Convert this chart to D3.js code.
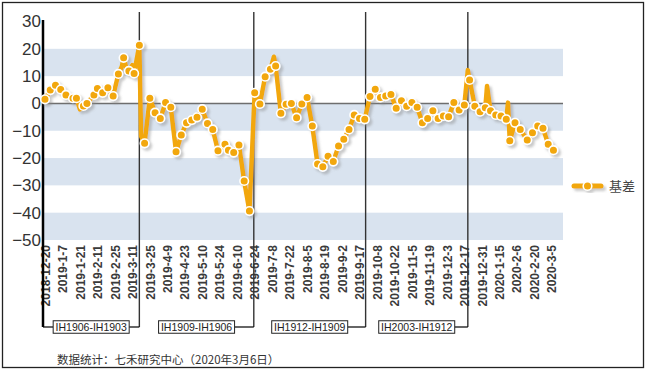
<!DOCTYPE html>
<html>
<head>
<meta charset="utf-8">
<script src="https://cdn.jsdelivr.net/npm/d3@7"></script>
<style>
body { margin: 0; background: #fff; }
svg { display: block; font-family: "Liberation Sans", Arial, sans-serif; }
</style>
</head>
<body>
<div id="chart"></div>
<script>
var svgWidth = 647
var svgHeight = 371

// tick labels, one every 10 trading days
var tickLabels = ["2018-12-20", "2019-1-7", "2019-1-21", "2019-2-11", "2019-2-25", "2019-3-11",
	"2019-3-25", "2019-4-9", "2019-4-23", "2019-5-10", "2019-5-24", "2019-6-10", "2019-6-24",
	"2019-7-8", "2019-7-22", "2019-8-5", "2019-8-19", "2019-9-2", "2019-9-17", "2019-10-8",
	"2019-10-22", "2019-11-5", "2019-11-19", "2019-12-3", "2019-12-17", "2019-12-31",
	"2020-1-15", "2020-2-6", "2020-2-20", "2020-3-5"]

// trading day index (0 = 2018-12-20) and basis value
var dayIdx = [0, 3, 6, 9, 12, 16, 18, 20, 22, 24, 28, 30, 33, 36, 39, 42, 44, 45, 47, 48, 50, 51, 54, 55, 57,
	60, 63, 66, 69, 72, 75, 78, 81, 84, 87, 90, 93, 96, 99, 103, 105, 108, 111, 114, 117, 120,
	123, 126, 129, 131, 132, 135, 138, 141, 144, 147, 150, 153, 156, 159, 162, 165, 168, 171,
	174, 177, 180, 183, 186, 189, 192, 195, 198, 201, 204, 207, 210, 213, 216, 219, 222, 225,
	228, 231, 234, 237, 240, 242, 243, 246, 249, 252, 253, 255, 258, 261, 264, 265, 266, 269,
	272, 276, 279, 282, 285, 288, 291]
var basis = [1.5, 4.9, 6.7, 5.1, 3.1, 1.9, 1.9, -2.2, -0.9, 0, 3.1, 5.5, 3.9, 5.7, 2.7, 10.8, 13.5, 16.7, 12, 11.9, 14, 11, 21.3, -12, -14.6,
	1.9, -3.4, -5.5, 0.3, -1.4, -17.7, -11.6, -7.1, -6.1, -5.1, -2.1, -7.3, -9.5, -17.3, -14.9, -17.1, -18, -15.2, -28.4, -39.4, 3.9,
	-0.2, 9.8, 12.5, 17.1, 13.7, -3.6, -0.3, 0, -5.2, -0.2, 2.2, -8.3, -22.2, -23.2, -19.3, -21.3, -15.6, -13.1,
	-9.5, -4.2, -5.5, -5.8, 2.5, 5.2, 2.2, 2.7, 3.3, -1.8, 1, -1, 0.3, -1.4, -7.1, -5.5, -2.7, -5.5,
	-4.6, -4.9, 0.3, -2.4, -0.6, 12.2, 8.6, -1, -3, -1.6, 6.4, -2.7, -4.2, -4.6, -5.8, 0.3, -13.7, -7.1,
	-9.5, -13.4, -10.7, -8.3, -9.1, -14.9, -17.1]
// line vertices that carry no marker (intraday spikes)
var noMarker = [20, 44, 47, 50, 55, 131, 242, 253, 265]

// contract roll positions and the spread names of each period
var switchIdx = [54, 119.5, 183.5, 242]
var periodNames = ["IH1906-IH1903", "IH1909-IH1906", "IH1912-IH1909", "IH2003-IH1912"]

var yTicks = [-50, -40, -30, -20, -10, 0, 10, 20, 30]

var plotLeft = 43
var plotRight = 563
var orange = "#f2a70c"

var svg = d3.select("#chart")
	.append("svg")
	.attr("width", svgWidth)
	.attr("height", svgHeight)

var defs = svg.append("defs")
var shadow = defs.append("filter")
	.attr("id", "shadow")
	.attr("x", "-10%").attr("y", "-10%")
	.attr("width", "130%").attr("height", "130%")
shadow.append("feDropShadow")
	.attr("dx", 2.5)
	.attr("dy", 2.5)
	.attr("stdDeviation", 1)
	.attr("flood-color", "#8a8a8a")
	.attr("flood-opacity", 0.45)

// outer frame
svg.append("rect")
	.attr("x", 2.5).attr("y", 2.5)
	.attr("width", 641).attr("height", 365)
	.attr("fill", "none")
	.attr("stroke", "#222")
	.attr("stroke-width", 1.3)

var x = d3.scaleLinear().domain([0, 290]).range([45, 551.7])
var y = d3.scaleLinear().domain([-50, 30]).range([240, 21.5])

// alternating bands
var bands = [[10, 20], [-10, 0], [-30, -20], [-50, -40]]
svg.append("g").selectAll("rect")
	.data(bands)
	.enter()
	.append("rect")
	.attr("x", plotLeft)
	.attr("width", plotRight - plotLeft)
	.attr("y", function(d){return y(d[1])})
	.attr("height", function(d){return y(d[0]) - y(d[1])})
	.attr("fill", "#d9e3ef")

// zero line
svg.append("line")
	.attr("x1", plotLeft).attr("x2", plotRight)
	.attr("y1", y(0)).attr("y2", y(0))
	.attr("stroke", "#6e6e6e")
	.attr("stroke-width", 1.5)

// y axis
var yAxis = svg.append("g")
	.attr("transform", "translate(" + plotLeft + ",0)")
	.call(d3.axisLeft(y).tickValues(yTicks).tickSize(0).tickPadding(2))
yAxis.select(".domain").remove()
yAxis.selectAll("text")
	.style("font-size", "17px")
	.attr("fill", "#333")

// x axis labels
var xAxis = svg.append("g")
	.attr("transform", "translate(0,241)")
	.call(d3.axisBottom(x)
		.tickValues(d3.range(0, 300, 10))
		.tickFormat(function(d){return tickLabels[d / 10]})
		.tickSize(0))
xAxis.select(".domain").remove()
xAxis.selectAll("text")
	.attr("transform", "rotate(-90)")
	.attr("text-anchor", "end")
	.attr("x", -4)
	.attr("y", 0)
	.attr("dy", "0.35em")
	.style("font-size", "12px")
	.style("font-weight", "bold")
	.attr("fill", "#3a3a3a")

// contract roll lines and brackets
var bounds = [plotLeft].concat(switchIdx.map(function(d){return x(d)}))
var bracketY = 327
var guides = svg.append("g")
guides.selectAll("line.roll")
	.data(switchIdx)
	.enter()
	.append("line")
	.attr("class", "roll")
	.attr("x1", function(d){return x(d)})
	.attr("x2", function(d){return x(d)})
	.attr("y1", 12)
	.attr("y2", bracketY)
	.attr("stroke", "#333")
	.attr("stroke-width", 1.4)

// left axis line, thick
guides.append("line")
	.attr("x1", plotLeft).attr("x2", plotLeft)
	.attr("y1", 20).attr("y2", bracketY)
	.attr("stroke", "#000")
	.attr("stroke-width", 2.5)

var boxW = 76
var boxH = 12.5
periodNames.forEach(function(name, i) {
	var cx = (bounds[i] + bounds[i + 1]) / 2
	if (i === 0) {
		guides.append("line")
			.attr("x1", bounds[i]).attr("x2", cx - boxW / 2)
			.attr("y1", bracketY).attr("y2", bracketY)
			.attr("stroke", "#000").attr("stroke-width", 1.2)
	}
	guides.append("line")
		.attr("x1", cx + boxW / 2).attr("x2", bounds[i + 1])
		.attr("y1", bracketY).attr("y2", bracketY)
		.attr("stroke", "#000").attr("stroke-width", 1.2)
	guides.append("rect")
		.attr("x", cx - boxW / 2)
		.attr("y", bracketY - boxH / 2)
		.attr("width", boxW)
		.attr("height", boxH)
		.attr("fill", "#fff")
		.attr("stroke", "#222")
		.attr("stroke-width", 1)
	guides.append("text")
		.attr("x", cx)
		.attr("y", bracketY + 4)
		.attr("text-anchor", "middle")
		.style("font-size", "10.5px")
		.attr("fill", "#222")
		.text(name)
})

// series
var points = dayIdx.map(function(d, i){return {idx: d, value: basis[i]}})
var series = svg.append("g").attr("filter", "url(#shadow)")
var line = d3.line()
	.x(function(d){return x(d.idx)})
	.y(function(d){return y(d.value)})
series.append("path")
	.datum(points)
	.attr("d", line)
	.attr("fill", "none")
	.attr("stroke", orange)
	.attr("stroke-width", 4.5)
	.attr("stroke-linejoin", "round")
series.selectAll("circle")
	.data(points.filter(function(d){return noMarker.indexOf(d.idx) === -1}))
	.enter()
	.append("circle")
	.attr("cx", function(d){return x(d.idx)})
	.attr("cy", function(d){return y(d.value)})
	.attr("r", 4.3)
	.attr("fill", orange)
	.attr("stroke", "#fff")
	.attr("stroke-width", 1.6)

// legend
var legend = svg.append("g").attr("filter", "url(#shadow)")
legend.append("line")
	.attr("x1", 574).attr("x2", 601)
	.attr("y1", 186).attr("y2", 186)
	.attr("stroke", orange)
	.attr("stroke-width", 5)
	.attr("stroke-linecap", "round")
legend.append("circle")
	.attr("cx", 587.5).attr("cy", 186)
	.attr("r", 4.3)
	.attr("fill", orange)
	.attr("stroke", "#fff")
	.attr("stroke-width", 1.6)
svg.append("text")
	.attr("x", 609)
	.attr("y", 191)
	.style("font-family", "'Noto Sans CJK SC', sans-serif")
	.style("font-size", "13px")
	.attr("fill", "#444")
	.text("基差")

// source note
svg.append("text")
	.attr("x", 57)
	.attr("y", 364)
	.style("font-family", "'Noto Sans CJK SC', sans-serif")
	.style("font-size", "11.5px")
	.attr("fill", "#333")
	.text("数据统计：七禾研究中心（2020年3月6日）")
</script>
</body>
</html>
